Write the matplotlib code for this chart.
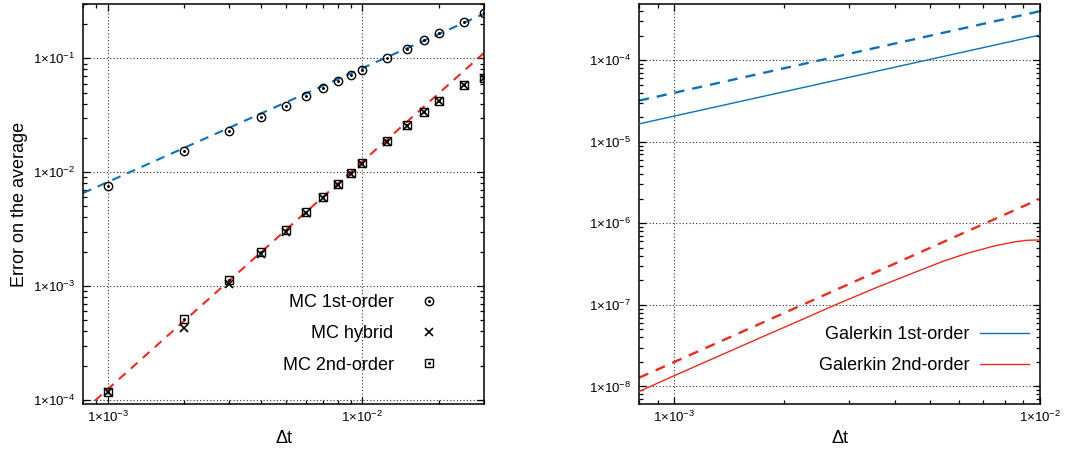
import numpy as np
import matplotlib
matplotlib.use("Agg")
import matplotlib.pyplot as plt
from matplotlib.ticker import LogLocator, NullFormatter, FuncFormatter
from matplotlib.legend_handler import HandlerTuple

plt.rcParams['font.family'] = ['Liberation Sans', 'DejaVu Sans']
plt.rcParams['mathtext.fontset'] = 'custom'
plt.rcParams['mathtext.rm'] = 'Liberation Sans'
plt.rcParams['mathtext.it'] = 'Liberation Sans:italic'
plt.rcParams['mathtext.bf'] = 'Liberation Sans:bold'

# ---------------- data: left panel (Monte Carlo) ----------------
dt_mc = [0.001, 0.002, 0.003, 0.004, 0.005, 0.006, 0.007, 0.008, 0.009, 0.010,
         0.0125, 0.015, 0.0175, 0.020, 0.025, 0.030]
mc_first = [0.00754, 0.0152, 0.0228, 0.0306, 0.0382, 0.0464, 0.0546, 0.0629,
            0.0709, 0.0791, 0.100, 0.1216, 0.1438, 0.1656, 0.2085, 0.250]
mc_hybrid = [1.17e-4, 4.31e-4, 1.035e-3, 1.91e-3, 3.00e-3, 4.35e-3, 5.90e-3,
             7.70e-3, 9.70e-3, 0.0119, 0.0184, 0.0256, 0.0338, 0.0422, 0.058, 0.067]
mc_second = [1.175e-4, 5.10e-4, 1.138e-3, 1.99e-3, 3.13e-3, 4.43e-3, 6.00e-3,
             7.80e-3, 9.80e-3, 0.0121, 0.0186, 0.0258, 0.0341, 0.0426, 0.0585, 0.0677]
# reference slopes (order 1 and order 2), end points
ref_dt_left = [0.0008, 0.030]
ref1_left = [0.00655, 0.246]
ref2_left = [7.93e-5, 0.1115]

# ---------------- data: right panel (Galerkin) ----------------
ref_dt_right = [0.0008, 0.010]
ref1_right = [3.2e-5, 4.0e-4]
ref2_right = [1.28e-8, 2.0e-6]
dt_gal1 = [0.0008, 0.010]
gal_first = [1.66e-5, 2.04e-4]
dt_gal2 = [0.0008, 0.001, 0.001715, 0.002116, 0.00278, 0.00358, 0.00441,
           0.00544, 0.00630, 0.00745, 0.00845, 0.00920, 0.010]
gal_second = [8.67e-9, 1.36e-8, 3.95e-8, 5.95e-8, 1.02e-7, 1.64e-7, 2.38e-7,
              3.44e-7, 4.28e-7, 5.25e-7, 5.90e-7, 6.20e-7, 6.27e-7]

BLUE = '#0b72b9'
RED = '#ee2a1f'

fig = plt.figure(figsize=(10.66, 4.5), dpi=100)
axL = fig.add_axes([83/1066, 46/450, 401/1066, 400/450])
axR = fig.add_axes([639/1066, 46/450, 401/1066, 400/450])


def sci_fmt(v, pos):
    e = int(round(np.log10(v)))
    return r'$\mathregular{1{\times}10^{%d}}$' % e


for ax in (axL, axR):
    ax.set_xscale('log')
    ax.set_yscale('log')
    ax.xaxis.set_major_locator(LogLocator(base=10, numticks=20))
    ax.yaxis.set_major_locator(LogLocator(base=10, numticks=20))
    ax.xaxis.set_minor_locator(LogLocator(base=10, subs=np.arange(2, 10), numticks=20))
    ax.yaxis.set_minor_locator(LogLocator(base=10, subs=np.arange(2, 10), numticks=20))
    ax.xaxis.set_major_formatter(FuncFormatter(sci_fmt))
    ax.yaxis.set_major_formatter(FuncFormatter(sci_fmt))
    ax.xaxis.set_minor_formatter(NullFormatter())
    ax.yaxis.set_minor_formatter(NullFormatter())
    ax.tick_params(which='both', direction='in', top=True, right=True,
                   labelsize=9.5, width=0.9, colors='black')
    ax.tick_params(which='major', length=5.2)
    ax.tick_params(which='minor', length=2.8)
    ax.tick_params(axis='y', which='major', pad=5.5)
    ax.tick_params(axis='x', which='major', pad=4)
    ax.grid(True, which='major', linestyle=(0, (1, 2)), color='#333333', linewidth=0.8)
    for s in ax.spines.values():
        s.set_linewidth(1.1)
    ax.set_xlabel('Δt', fontsize=13)
    ax.xaxis.set_label_coords(0.5, -0.065)

# ---- left panel ----
dash = (0, (4.3, 3.4))
axL.plot(ref_dt_left, ref1_left, color=BLUE, lw=1.5, linestyle=dash, zorder=2)
axL.plot(ref_dt_left, ref2_left, color=RED, lw=1.5, linestyle=dash, zorder=2)

mk = dict(color='black', linestyle='none', zorder=3)
c1, = axL.plot(dt_mc, mc_first, marker='o', ms=6, mfc='none', mew=1.0, **mk)
c1d, = axL.plot(dt_mc, mc_first, marker='.', ms=2.2, **mk)
h1, = axL.plot(dt_mc, mc_hybrid, marker='x', ms=5.5, mew=1.2, **mk)
s2, = axL.plot(dt_mc, mc_second, marker='s', ms=5.5, mfc='none', mew=1.0, **mk)
s2d, = axL.plot(dt_mc, mc_second, marker='.', ms=2.2, **mk)

axL.set_xlim(0.0008, 0.030)
axL.set_ylim(9.2e-5, 0.30)
axL.set_ylabel('Error on the average', fontsize=13)
axL.yaxis.set_label_coords(-0.138, 0.5)

legL = axL.legend([(c1, c1d), h1, (s2, s2d)], ['MC 1st-order', 'MC hybrid', 'MC 2nd-order'],
                  handler_map={tuple: HandlerTuple(ndivide=1)},
                  loc='center right', bbox_to_anchor=(0.923, 0.175), frameon=False,
                  markerfirst=False, fontsize=13, handlelength=2.7, handletextpad=0.6,
                  labelspacing=0.78, borderpad=0, borderaxespad=0)

# ---- right panel ----
axR.plot(ref_dt_right, ref1_right, color=BLUE, lw=1.7, linestyle=dash, zorder=2)
axR.plot(ref_dt_right, ref2_right, color=RED, lw=1.7, linestyle=dash, zorder=2)
g1, = axR.plot(dt_gal1, gal_first, color=BLUE, lw=1.0, zorder=3)
g2, = axR.plot(dt_gal2, gal_second, color=RED, lw=1.0, zorder=3)
axR.set_xlim(0.0008, 0.010)
axR.set_ylim(6.1e-9, 4.9e-4)

legR = axR.legend([g1, g2], ['Galerkin 1st-order', 'Galerkin 2nd-order'],
                  loc='center right', bbox_to_anchor=(0.9726, 0.134), frameon=False,
                  markerfirst=False, fontsize=13, handlelength=2.7, handletextpad=0.6,
                  labelspacing=0.78, borderpad=0, borderaxespad=0)

fig.savefig('out.png', dpi=100)
